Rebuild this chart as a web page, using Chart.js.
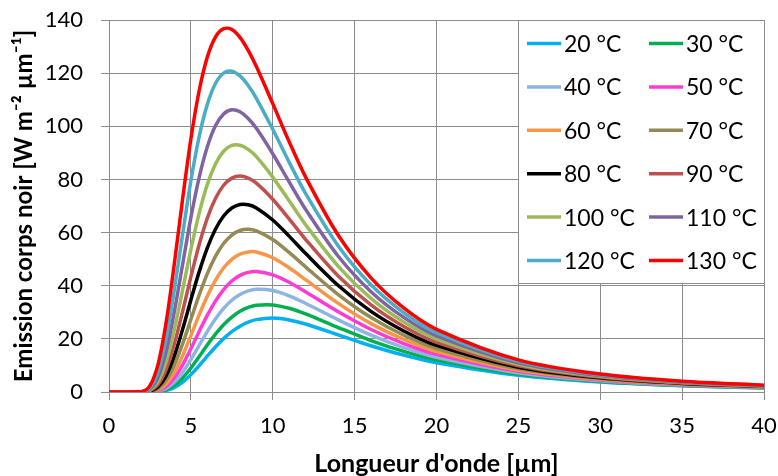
<!DOCTYPE html>
<html>
<head>
<meta charset="utf-8">
<script src="https://cdn.jsdelivr.net/npm/chart.js@4"></script>
<style>
body{margin:0;background:#fff}
</style>
</head>
<body>
<canvas id="planckChart" width="778" height="476"></canvas>
<script>

// wavelengths [µm]
const wavelengths = [0, 2, 2.5, 3, 3.5, 4, 4.5, 5, 5.5, 6, 6.5, 7, 7.5, 8, 8.5, 9, 10, 11, 12, 14, 16, 18, 20, 25, 30, 35, 40]

const labels = ["20 °C","30 °C","40 °C","50 °C","60 °C","70 °C","80 °C","90 °C","100 °C","110 °C","120 °C","130 °C"]
const colors = ["#00b0f0","#00b050","#8db4e2","#ff3bd6","#f79646","#948a54","#000000","#c0504d","#9bbb59","#8064a2","#4bacc6","#ff0000"]

// emission [W m-2 µm-1]
const t20  = [0, 0, 0.01, 0.12, 0.58, 1.71, 3.72, 6.54, 9.90, 13.49, 16.96, 20.09, 22.72, 24.78, 26.28, 27.24, 27.84, 27.13, 25.60, 21.53, 17.42, 13.86, 10.99, 6.26, 3.72, 2.32, 1.52]
const t30  = [0, 0, 0.02, 0.21, 0.92, 2.57, 5.33, 9.03, 13.30, 17.66, 21.76, 25.32, 28.20, 30.35, 31.81, 32.65, 32.78, 31.50, 29.37, 24.27, 19.37, 15.27, 12.02, 6.75, 3.98, 2.47, 1.61]
const t40  = [0, 0, 0.04, 0.34, 1.42, 3.75, 7.46, 12.23, 17.50, 22.74, 27.48, 31.45, 34.53, 36.71, 38.05, 38.66, 38.20, 36.21, 33.41, 27.15, 21.41, 16.73, 13.07, 7.25, 4.25, 2.62, 1.70]
const t50  = [0, 0, 0.07, 0.55, 2.13, 5.36, 10.23, 16.25, 22.68, 28.81, 34.21, 38.54, 41.76, 43.89, 45.02, 45.34, 44.11, 41.30, 37.72, 30.18, 23.53, 18.23, 14.15, 7.76, 4.51, 2.77, 1.79]
const t60  = [0, 0, 0.12, 0.86, 3.12, 7.48, 13.77, 21.22, 28.92, 36.03, 42.02, 46.66, 49.92, 51.88, 52.73, 52.66, 50.51, 46.74, 42.29, 33.34, 25.73, 19.77, 15.25, 8.28, 4.78, 2.93, 1.88]
const t70  = [0, 0, 0.20, 1.31, 4.47, 10.25, 18.21, 27.30, 36.38, 44.46, 51.02, 55.88, 59.08, 60.77, 61.21, 60.63, 57.37, 52.52, 47.11, 36.66, 28.00, 21.36, 16.38, 8.81, 5.06, 3.08, 1.97]
const t80  = [0, 0.02, 0.32, 1.95, 6.26, 13.78, 23.71, 34.64, 45.11, 54.19, 61.26, 66.25, 69.26, 70.57, 70.46, 69.28, 64.73, 58.67, 52.18, 40.08, 30.34, 22.98, 17.54, 9.34, 5.33, 3.23, 2.07]
const t90  = [0, 0.03, 0.50, 2.83, 8.64, 18.25, 30.44, 43.35, 55.34, 65.37, 72.83, 77.81, 80.49, 81.27, 80.50, 78.60, 72.56, 65.15, 57.48, 43.62, 32.75, 24.65, 18.71, 9.88, 5.61, 3.39, 2.16]
const t100 = [0, 0.05, 0.77, 4.03, 11.69, 23.77, 38.55, 53.59, 67.12, 78.03, 85.79, 90.60, 92.81, 92.87, 91.33, 88.59, 80.87, 71.95, 63.03, 47.30, 35.22, 26.34, 19.90, 10.43, 5.89, 3.55, 2.25]
const t110 = [0, 0.08, 1.15, 5.64, 15.59, 30.61, 48.16, 65.60, 80.62, 92.22, 100.20, 104.66, 106.22, 105.45, 102.94, 99.23, 89.65, 79.08, 68.79, 51.08, 37.75, 28.07, 21.11, 10.98, 6.17, 3.70, 2.35]
const t120 = [0, 0.13, 1.68, 7.75, 20.50, 38.86, 59.56, 79.44, 95.94, 108.15, 116.11, 120.01, 120.75, 118.96, 115.35, 110.51, 98.86, 86.50, 74.78, 54.95, 40.33, 29.83, 22.34, 11.53, 6.45, 3.86, 2.44]
const t130 = [0, 0.21, 2.42, 10.50, 26.59, 48.75, 72.88, 95.21, 113.19, 125.99, 133.59, 136.75, 136.44, 133.45, 128.55, 122.47, 108.52, 94.22, 80.98, 58.97, 42.97, 31.62, 23.59, 12.09, 6.74, 4.02, 2.54]

const series = [t20, t30, t40, t50, t60, t70, t80, t90, t100, t110, t120, t130]

const xTicks = [0, 5, 10, 15, 20, 25, 30, 35, 40]
const yTicks = [0, 20, 40, 60, 80, 100, 120, 140]

const FONT = "Lato"

// legend drawn as a 2 column box in the top right of the plot
const legendBox = {
id: "legendBox",
afterDatasetsDraw(chart){
const ctx = chart.ctx
const left = Math.round(chart.scales.x.getPixelForValue(25))
const top = Math.round(chart.chartArea.top)
const right = Math.round(chart.chartArea.right)
const bottom = 283
ctx.save()
ctx.fillStyle = "#ffffff"
ctx.fillRect(left, top, right-left, bottom-top)
ctx.strokeStyle = "#8c8c8c"
ctx.lineWidth = 1
ctx.strokeRect(left+0.5, top+0.5, right-left, bottom-top)
ctx.font = "23px " + FONT
ctx.textBaseline = "middle"
chart.data.datasets.forEach((ds,i)=>{
let col = i % 2
let row = Math.floor(i / 2)
let lx = left + 9 + col * 122
let ly = top + 23.5 + row * 43.4
ctx.strokeStyle = ds.borderColor
ctx.lineWidth = 3.5
ctx.beginPath()
ctx.moveTo(lx, ly)
ctx.lineTo(lx + 34, ly)
ctx.stroke()
ctx.fillStyle = "#000000"
ctx.fillText(ds.label, lx + 37, ly + 1)
})
ctx.restore()
}
}

const ctx = document.getElementById("planckChart").getContext("2d")

new Chart(ctx,{
type:"line",
data:{
datasets: series.map((vals,i)=>({
label: labels[i],
data: vals.map((v,j)=>({x: wavelengths[j], y: v})),
borderColor: colors[i],
backgroundColor: colors[i],
borderWidth: 3.5,
pointRadius: 0,
fill: false,
tension: 0.3,
order: series.length - i
}))
},
options:{
responsive:false,
animation:false,
layout:{padding:{top:20, right:14, left:0, bottom:0}},
plugins:{
legend:{display:false},
tooltip:{enabled:false}
},
scales:{
x:{
type:"linear",
min:0,
max:40,
afterBuildTicks: s => { s.ticks = xTicks.map(v=>({value:v})) },
afterFit: s => { s.height = 84; s.paddingLeft = 0; s.paddingRight = 0 },
grid:{color:"#8c8c8c", tickLength:8, lineWidth:1},
border:{color:"#8c8c8c"},
ticks:{color:"#000", padding:13, font:{family:FONT, size:22}, maxRotation:0},
title:{display:true, text:"Longueur d'onde [µm]", color:"#000", padding:0, font:{family:FONT, size:25, weight:"bold", lineHeight:1}}
},
y:{
min:0,
max:140,
afterBuildTicks: s => { s.ticks = yTicks.map(v=>({value:v})) },
afterFit: s => { s.width = 109; s.paddingTop = 0; s.paddingBottom = 0 },
grid:{color:"#8c8c8c", tickLength:8, lineWidth:1},
border:{color:"#8c8c8c"},
ticks:{color:"#000", padding:18, font:{family:FONT, size:22}},
title:{display:true, text:"Emission corps noir [W m⁻² µm⁻¹]", color:"#000", padding:{top:12, bottom:0}, font:{family:FONT, size:24, weight:"bold", lineHeight:1}}
}
}
},
plugins:[legendBox]
})

</script>
</body>
</html>
